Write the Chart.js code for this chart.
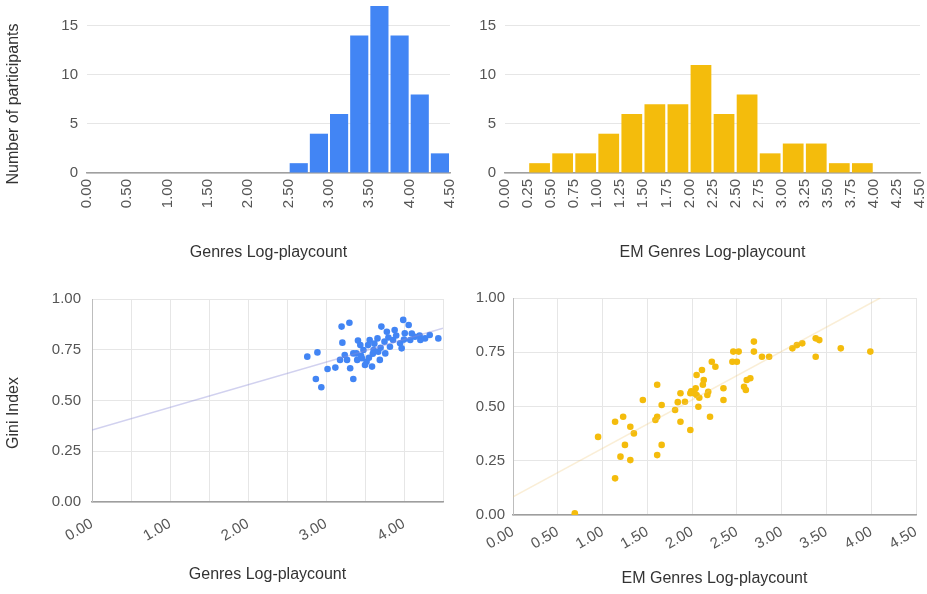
<!DOCTYPE html>
<html>
<head>
<meta charset="utf-8">
<script src="https://cdn.jsdelivr.net/npm/chart.js@4.4.1/dist/chart.umd.min.js"></script>
<style>
  body { margin: 0; background: #fff; }
  .panel { position: absolute; }
</style>
</head>
<body>
<div style="position:relative;width:927px;height:594px">
  <canvas class="panel" id="histGenres" width="460" height="270" style="left:0;top:0"></canvas>
  <canvas class="panel" id="histEm" width="467" height="270" style="left:460px;top:0"></canvas>
  <canvas class="panel" id="scatGenres" width="460" height="314" style="left:0;top:280px"></canvas>
  <canvas class="panel" id="scatEm" width="467" height="314" style="left:460px;top:280px"></canvas>
</div>
<script>
// histogram bins (centre of each 0.25 wide bin) and counts
var genreBinCenters = [2.625, 2.875, 3.125, 3.375, 3.625, 3.875, 4.125, 4.375];
var genreCounts = [1, 4, 6, 14, 17, 14, 8, 2];

var emBinCenters = [0.375, 0.625, 0.875, 1.125, 1.375, 1.625, 1.875, 2.125, 2.375, 2.625, 2.875, 3.125, 3.375, 3.625, 3.875];
var emCounts = [1, 2, 2, 4, 6, 7, 7, 11, 6, 8, 2, 3, 3, 1, 1];

// scatter: genres log-playcount vs gini index
var genreX = [2.76, 2.89, 2.87, 2.94, 3.02, 3.12, 3.20, 3.30, 3.21, 3.41, 3.35, 3.27, 3.39, 3.46, 3.52, 3.59,
  3.61, 3.66, 3.71, 3.78, 3.82, 3.76, 3.86, 3.95, 3.99, 4.06, 4.01, 3.97, 4.14, 4.21, 4.27, 4.44,
  3.48, 3.54, 3.67, 3.31, 3.35, 3.18, 3.24, 3.44, 3.50, 3.88, 4.33, 4.08, 3.56, 3.69,
  3.40, 3.45, 3.55, 3.60, 3.62, 3.70, 3.75, 3.80, 3.90, 4.00, 4.10, 4.20];
var genreGini = [0.716, 0.737, 0.606, 0.565, 0.655, 0.662, 0.864, 0.883, 0.785, 0.795, 0.606, 0.700, 0.732, 0.708, 0.691, 0.667,
  0.749, 0.806, 0.864, 0.839, 0.765, 0.732, 0.798, 0.782, 0.897, 0.872, 0.831, 0.757, 0.814, 0.798, 0.806, 0.806,
  0.749, 0.773, 0.740, 0.659, 0.732, 0.700, 0.724, 0.773, 0.675, 0.847, 0.823, 0.798, 0.798, 0.700,
  0.700, 0.720, 0.710, 0.730, 0.780, 0.760, 0.790, 0.810, 0.820, 0.800, 0.830, 0.820];

// scatter: EM genres log-playcount vs gini index
var emX = [0.95, 1.14, 1.23, 1.31, 1.35, 1.25, 1.20, 1.31, 1.14, 1.45, 1.61, 1.61, 1.59, 1.66, 1.66, 1.61,
  1.81, 1.87, 1.87, 1.92, 1.98, 1.98, 2.04, 2.05, 2.07, 2.05, 2.11, 2.13, 2.17, 2.20, 2.22, 2.26,
  2.18, 2.35, 2.35, 2.46, 2.50, 2.45, 2.52, 2.58, 2.61, 2.65, 2.60, 2.69, 2.69, 2.78, 2.86,
  3.12, 3.17, 3.23, 3.38, 3.42, 3.38, 3.66, 3.99, 0.69, 1.99, 2.03, 2.08, 1.84, 2.12];
var emGini = [0.360, 0.430, 0.453, 0.407, 0.376, 0.323, 0.269, 0.253, 0.169, 0.530, 0.600, 0.453, 0.438, 0.507, 0.323, 0.276,
  0.484, 0.561, 0.430, 0.522, 0.392, 0.561, 0.584, 0.553, 0.499, 0.645, 0.668, 0.622, 0.553, 0.453, 0.706, 0.683,
  0.568, 0.584, 0.530, 0.753, 0.706, 0.706, 0.753, 0.591, 0.622, 0.630, 0.576, 0.799, 0.753, 0.729, 0.729,
  0.768, 0.783, 0.791, 0.814, 0.806, 0.729, 0.768, 0.753, 0.008, 0.570, 0.560, 0.540, 0.520, 0.600];

// trendline end points
var genreTrendX = [0, 4.5];
var genreTrendY = [0.355, 0.856];
var emTrendX = [0, 4.1];
var emTrendY = [0.084, 1.0];

var BLUE = '#4285F4';
var YELLOW = '#F4BC0C';

Chart.defaults.font.family = '"Liberation Sans", Arial, sans-serif';
Chart.defaults.animation = false;
Chart.defaults.plugins.legend.display = false;
Chart.defaults.plugins.tooltip.enabled = false;

function toPoints(xs, ys) {
  return xs.map(function (x, i) { return { x: x, y: ys[i] }; });
}

// pin axis boxes so the plot area lands where the reference has it
function yFit(w) {
  return function (s) { s.width = w; s.paddingTop = 0; s.paddingBottom = 0; };
}
function xFit(h) {
  return function (s) { s.height = h; s.paddingLeft = 0; s.paddingRight = 0; };
}

var tickFont = { size: 15 };
var titleFont = { size: 16 };
var tickColor = '#555';
var titleColor = '#333';

// rotated y title, placed a bit lower than the plot centre like the original
var sideTitle = {
  id: 'sideTitle',
  afterDraw: function (chart, args, opts) {
    if (!opts.text) return;
    var ctx = chart.ctx;
    ctx.save();
    ctx.translate(opts.x, opts.y);
    ctx.rotate(-Math.PI / 2);
    ctx.font = titleFont.size + 'px ' + Chart.defaults.font.family;
    ctx.fillStyle = titleColor;
    ctx.textAlign = 'center';
    ctx.textBaseline = 'middle';
    ctx.fillText(opts.text, 0, 0);
    ctx.restore();
  }
};

function histogram(id, centers, counts, color, step, yTitle, xTitle, yWidth, padRight) {
  return new Chart(document.getElementById(id), {
    type: 'bar',
    plugins: [sideTitle],
    data: {
      datasets: [{
        data: toPoints(centers, counts),
        backgroundColor: color,
        borderWidth: 0,
        barPercentage: 0.9,
        categoryPercentage: 1
      }]
    },
    options: {
      responsive: false,
      layout: { padding: { top: 6, right: padRight, bottom: 4, left: 0 } },
      plugins: { sideTitle: { text: yTitle, x: 14, y: 104 } },
      scales: {
        x: {
          type: 'linear',
          min: 0,
          max: 4.5,
          offset: false,
          afterFit: xFit(93),
          grid: { display: false, offset: false, drawTicks: false },
          border: { display: true, color: '#a0a0a0', width: 1.5 },
          ticks: {
            stepSize: step,
            autoSkip: false,
            minRotation: 90,
            maxRotation: 90,
            padding: 6,
            font: tickFont,
            color: tickColor,
            callback: function (v) { return v.toFixed(2); }
          },
          title: { display: true, text: xTitle, font: titleFont, color: titleColor }
        },
        y: {
          min: 0,
          max: 17,
          afterFit: yFit(yWidth),
          grid: { color: '#e6e6e6', drawTicks: false },
          border: { display: false },
          ticks: { stepSize: 5, includeBounds: false, padding: 9, font: tickFont, color: tickColor }
        }
      }
    }
  });
}

function scatter(id, xs, ys, tx, ty, color, trendColor, onlyInts, yTitle, xTitle, box) {
  return new Chart(document.getElementById(id), {
    type: 'scatter',
    plugins: [sideTitle],
    data: {
      datasets: [{
        type: 'line',
        data: toPoints(tx, ty),
        borderColor: trendColor,
        borderWidth: 1.5,
        pointRadius: 0,
        fill: false
      }, {
        data: toPoints(xs, ys),
        backgroundColor: color,
        borderColor: color,
        pointRadius: 3.3,
        borderWidth: 0
      }]
    },
    options: {
      responsive: false,
      layout: { padding: { top: box.top, right: box.right, bottom: box.bottom, left: 0 } },
      plugins: { sideTitle: { text: yTitle, x: 14, y: 133 } },
      scales: {
        x: {
          type: 'linear',
          min: 0,
          max: 4.5,
          afterFit: xFit(box.xh),
          grid: { color: '#e6e6e6', drawTicks: false },
          border: { display: true, color: '#9e9e9e', width: 1.5 },
          ticks: {
            stepSize: 0.5,
            autoSkip: false,
            minRotation: 30,
            maxRotation: 30,
            padding: box.xp,
            font: tickFont,
            color: tickColor,
            callback: function (v) {
              if (onlyInts && !Number.isInteger(v)) return '';
              return v.toFixed(2);
            }
          },
          title: { display: true, text: xTitle, font: titleFont, color: titleColor }
        },
        y: {
          min: 0,
          max: 1,
          afterFit: yFit(box.yw),
          grid: { color: '#e6e6e6', drawTicks: false },
          border: { display: true, color: '#bdbdbd' },
          ticks: {
            stepSize: 0.25,
            padding: box.tp,
            font: tickFont,
            color: tickColor,
            callback: function (v) { return v.toFixed(2); }
          }
        }
      }
    }
  });
}

histogram('histGenres', genreBinCenters, genreCounts, BLUE, 0.5, 'Number of participants', 'Genres Log-playcount', 87, 10);
histogram('histEm', emBinCenters, emCounts, YELLOW, 0.25, '', 'EM Genres Log-playcount', 45, 7);

scatter('scatGenres', genreX, genreGini, genreTrendX, genreTrendY, BLUE, 'rgba(140,140,215,0.4)', true,
  'Gini Index', 'Genres Log-playcount', { top: 19, right: 17, bottom: 6, xh: 86, yw: 92, tp: 11, xp: 13 });
scatter('scatEm', emX, emGini, emTrendX, emTrendY, YELLOW, 'rgba(240,200,120,0.3)', false,
  '', 'EM Genres Log-playcount', { top: 18, right: 11, bottom: 2, xh: 77, yw: 53, tp: 8, xp: 8 });
</script>
</body>
</html>
